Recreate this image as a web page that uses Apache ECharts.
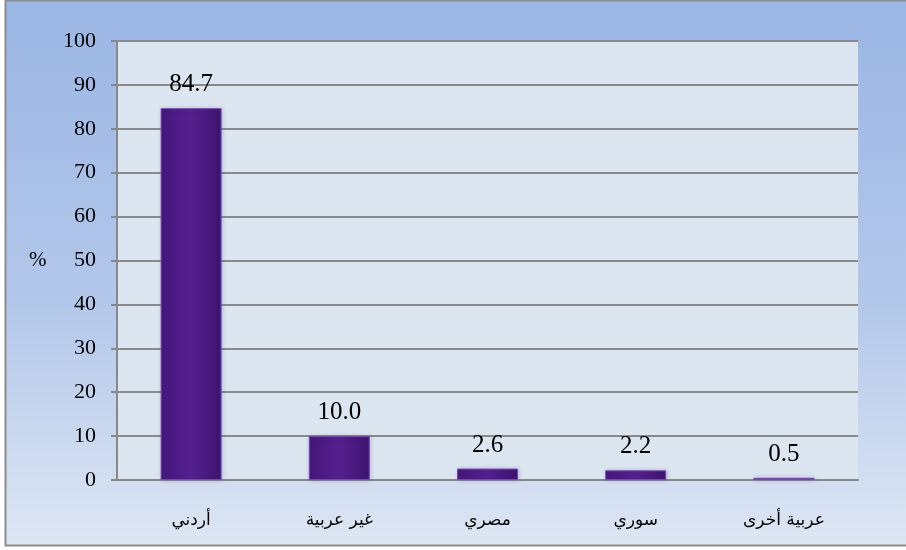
<!DOCTYPE html>
<html><head><meta charset="utf-8">
<script src="https://cdn.jsdelivr.net/npm/echarts@6/dist/echarts.min.js"></script>
<style>html,body{margin:0;padding:0;background:#fff}#c{width:906px;height:550px}</style>
</head><body><div id="c"></div>
<script>
const categories = ['أردني', 'غير عربية', 'مصري', 'سوري', 'عربية أخرى'];
const values = [84.7, 10.0, 2.6, 2.2, 0.5];
const yTicks = [0, 10, 20, 30, 40, 50, 60, 70, 80, 90, 100];

const chart = echarts.init(document.getElementById('c'), null, {renderer: 'canvas'});
chart.setOption({
  animation: false,
  backgroundColor: '#ffffff',
  graphic: [{
    type: 'rect', z: -10, silent: true,
    shape: {x: 5.5, y: 0.5, width: 920, height: 545},
    style: {
      fill: new echarts.graphic.LinearGradient(0, 0, 0, 1, [
        {offset: 0, color: '#9AB6E4'},
        {offset: 0.55, color: '#B3C7EA'},
        {offset: 1, color: '#DDE6F3'}
      ]),
      stroke: '#8c8c8c', lineWidth: 2
    }
  }, {
    type: 'text', left: 29, top: 250,
    style: {text: '%', font: '21px "Liberation Serif"', fill: '#000'}
  }],
  grid: {left: 117, right: 48, top: 41, bottom: 70, show: false},
  xAxis: {
    type: 'category', data: categories,
    axisLine: {show: true, lineStyle: {color: '#888', width: 2}},
    axisTick: {show: false},
    splitLine: {show: false},
    splitArea: {show: false},
    axisLabel: {color: '#000', fontSize: 17, margin: 32,
      fontFamily: '"DejaVu Serif", "DejaVu Sans", "Noto Sans"'}
  },
  yAxis: {
    type: 'value', min: 0, max: 100, interval: 10,
    axisLine: {show: true, lineStyle: {color: '#888', width: 2}},
    axisTick: {show: true, length: 6, lineStyle: {color: '#888', width: 2}},
    axisLabel: {color: '#000', fontSize: 22, margin: 21,
      fontFamily: '"Liberation Serif", serif',
      formatter: v => yTicks.includes(v) ? String(v) : ''},
    splitLine: {show: true, lineStyle: {color: '#8a8a8a', width: 2}},
    splitArea: {show: true, areaStyle: {color: ['#DCE6F1']}}
  },
  series: [{
    type: 'bar', data: values, barWidth: 61,
    itemStyle: {
      color: new echarts.graphic.LinearGradient(0, 0, 1, 0, [
        {offset: 0, color: '#44177a'},
        {offset: 0.5, color: '#55208f'},
        {offset: 1, color: '#3d146e'}
      ]),
      borderColor: '#7a45b8', borderWidth: 1,
      shadowColor: 'rgba(60,60,90,0.25)', shadowBlur: 4, shadowOffsetX: 1
    },
    label: {show: true, position: 'top', distance: 11, color: '#000',
      fontSize: 25, fontFamily: '"Liberation Serif", serif',
      formatter: p => p.value.toFixed(1)}
  }]
});
</script></body></html>
